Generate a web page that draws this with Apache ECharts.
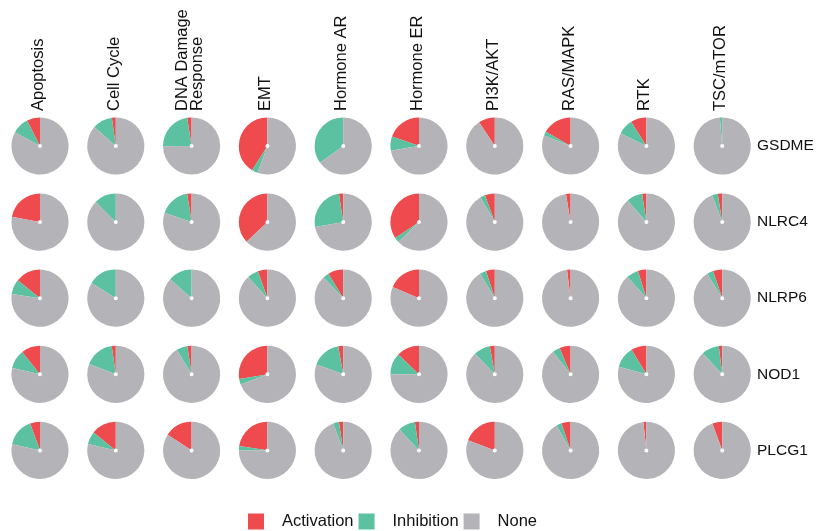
<!DOCTYPE html>
<html>
<head>
<meta charset="utf-8">
<script src="https://cdn.jsdelivr.net/npm/echarts@6/dist/echarts.min.js"></script>
<style>html,body{margin:0;padding:0;background:#fff;}#chart{width:818px;height:531px;}</style>
</head>
<body>
<div id="chart"></div>
<script>
// ---- data ----
var pathways = ['Apoptosis', 'Cell Cycle', 'DNA Damage\nResponse', 'EMT', 'Hormone AR', 'Hormone ER', 'PI3K/AKT', 'RAS/MAPK', 'RTK', 'TSC/mTOR'];
var genes = ['GSDME', 'NLRC4', 'NLRP6', 'NOD1', 'PLCG1'];
var statusNames = ['Activation', 'Inhibition', 'None'];
// percentages per gene (row) and pathway (column)
var activationGSDME = [7.5, 2.2, 2.5, 41, 0, 19.6, 9.3, 16.7, 9, 0];
var inhibitionGSDME = [9.5, 11.3, 22.6, 3.4, 35, 8.1, 0, 2.3, 8.8, 1.3];
var activationNLRC4 = [22, 0, 2.5, 37, 2.4, 34.4, 5.6, 2.6, 2.4, 2.5];
var inhibitionNLRC4 = [0, 12.5, 17.2, 0, 25.4, 2.8, 2.8, 0, 9, 3.2];
var activationNLRP6 = [14.2, 0, 0, 5.4, 8.6, 18.6, 5, 2, 4.8, 5.2];
var inhibitionNLRP6 = [8.5, 16, 13.5, 6.4, 3.5, 0, 3.6, 0, 6.8, 3.6];
var activationNOD1 = [10.7, 2.3, 2.4, 27.6, 2.8, 12.9, 2.8, 6.3, 8.7, 1.9];
var inhibitionNOD1 = [10.7, 16.9, 6.3, 3.2, 16.6, 12.1, 9.4, 4.3, 12.1, 10];
var activationPLCG1 = [5.6, 14.2, 15.8, 22.5, 2.4, 2.3, 19.3, 5.2, 1.7, 5.6];
var inhibitionPLCG1 = [15.9, 7.2, 0, 2.5, 3.2, 9.7, 0, 3, 0, 0];

var activation = [activationGSDME, activationNLRC4, activationNLRP6, activationNOD1, activationPLCG1];
var inhibition = [inhibitionGSDME, inhibitionNLRC4, inhibitionNLRP6, inhibitionNOD1, inhibitionPLCG1];

// ---- layout / style ----
var colors = ['#EF4B4E', '#5CC1A0', '#B4B4B8'];
var x0 = 40, dx = 75.8, y0 = 146, dy = 76.1, R = 28.6;

var series = [];
for (var r = 0; r < genes.length; r++) {
  for (var c = 0; c < pathways.length; c++) {
    var a = activation[r][c], h = inhibition[r][c];
    series.push({
      type: 'pie',
      name: genes[r] + ' / ' + pathways[c],
      center: [x0 + dx * c, y0 + dy * r],
      radius: [2, R],
      startAngle: 90,
      clockwise: false,
      label: { show: false },
      labelLine: { show: false },
      silent: true,
      itemStyle: { borderWidth: 0 },
      data: [
        { name: statusNames[0], value: a },
        { name: statusNames[1], value: h },
        { name: statusNames[2], value: Math.max(0, 100 - a - h) }
      ]
    });
  }
}

var graphics = [];
pathways.forEach(function (p, c) {
  graphics.push({
    type: 'text',
    x: x0 + dx * c - 1.5,
    y: 111,
    rotation: Math.PI / 2,
    style: {
      text: p,
      fontSize: 16.5,
      fontFamily: 'Liberation Sans, Arial, sans-serif',
      fill: '#111',
      align: 'left',
      verticalAlign: 'middle',
      lineHeight: 15
    }
  });
});
genes.forEach(function (g, r) {
  graphics.push({
    type: 'text',
    x: 757,
    y: y0 + dy * r,
    style: {
      text: g,
      fontSize: 15.5,
      fontFamily: 'Liberation Sans, Arial, sans-serif',
      fill: '#111',
      align: 'left',
      verticalAlign: 'middle'
    }
  });
});

var chart = echarts.init(document.getElementById('chart'), null, { renderer: 'canvas' });
chart.setOption({
  animation: false,
  color: colors,
  legend: {
    data: statusNames,
    left: 243,
    top: 508,
    icon: 'rect',
    itemWidth: 16,
    itemHeight: 16,
    itemGap: 5,
    textStyle: {
      fontSize: 16.5,
      fontFamily: 'Liberation Sans, Arial, sans-serif',
      color: '#111',
      padding: [0, 0, 0, 13]
    }
  },
  graphic: graphics,
  series: series
});
</script>
</body>
</html>
